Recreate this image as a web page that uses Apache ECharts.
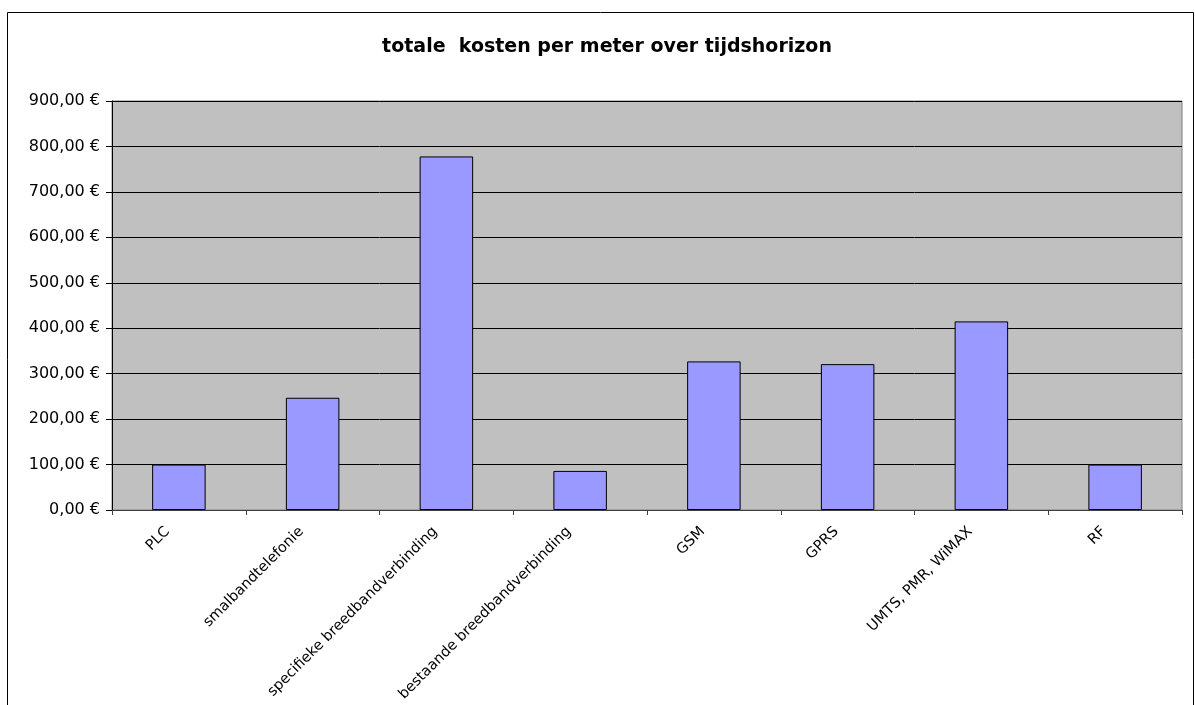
<!DOCTYPE html>
<html>
<head>
<meta charset="utf-8">
<script src="https://cdn.jsdelivr.net/npm/echarts@6/dist/echarts.min.js"></script>
<style>
  html, body { margin: 0; padding: 0; background: #fff; }
  #chart { width: 1195px; height: 705px; }
</style>
</head>
<body>
<div id="chart"></div>
<script>
const categories = [
  'PLC',
  'smalbandtelefonie',
  'specifieke breedbandverbinding',
  'bestaande breedbandverbinding',
  'GSM',
  'GPRS',
  'UMTS, PMR, WiMAX',
  'RF'
]
const costs = [100, 247, 778, 86, 327, 321, 415, 100]
const yTicks = [0, 100, 200, 300, 400, 500, 600, 700, 800, 900]

const labelFont = 'DejaVu Sans'

const chart = echarts.init(document.getElementById('chart'))

const option = {
  animation: false,
  backgroundColor: '#ffffff',
  title: {
    text: 'totale  kosten per meter over tijdshorizon',
    left: 602,
    top: 33,
    textAlign: 'center',
    textStyle: {
      fontFamily: labelFont,
      fontWeight: 'bold',
      fontSize: 19,
      color: '#000'
    }
  },
  graphic: [
    {
      type: 'rect',
      shape: { x: 7.5, y: 12.5, width: 1186, height: 760 },
      style: { fill: 'none', stroke: '#000', lineWidth: 1 },
      silent: true
    }
  ],
  grid: {
    left: 112,
    top: 101,
    right: 13,
    bottom: 195,
    outerBoundsMode: 'none',
    containLabel: false,
    show: true,
    backgroundColor: '#c0c0c0',
    borderColor: '#808080',
    borderWidth: 1
  },
  xAxis: {
    type: 'category',
    data: categories,
    axisLine: { lineStyle: { color: '#404040', width: 1 } },
    axisTick: { show: true, length: 5, lineStyle: { color: '#404040' } },
    axisLabel: {
      rotate: 45,
      interval: 0,
      margin: 8,
      padding: [0, 16, 0, 0],
      fontFamily: labelFont,
      fontSize: 14.5,
      color: '#000'
    }
  },
  yAxis: {
    type: 'value',
    min: yTicks[0],
    max: yTicks[yTicks.length - 1],
    interval: 100,
    axisLine: { show: true, lineStyle: { color: '#000', width: 1 } },
    axisTick: { show: true, length: 6, lineStyle: { color: '#000' } },
    splitLine: { lineStyle: { color: '#000', width: 1 } },
    axisLabel: {
      margin: 12,
      fontFamily: labelFont,
      fontSize: 16,
      color: '#000',
      formatter: (v) => v.toFixed(2).replace('.', ',') + ' €'
    }
  },
  series: [
    {
      type: 'bar',
      data: costs,
      barWidth: '40%',
      itemStyle: {
        color: '#9999ff',
        borderColor: '#000',
        borderWidth: 1
      }
    }
  ]
}

chart.setOption(option)
</script>
</body>
</html>
